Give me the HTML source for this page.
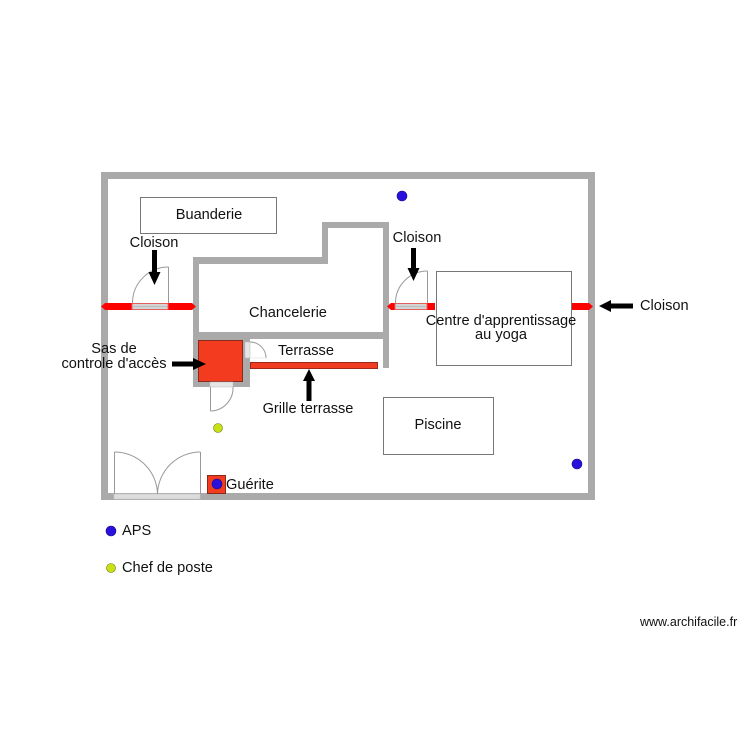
<!DOCTYPE html>
<html>
<head>
<meta charset="utf-8">
<style>
html,body{margin:0;padding:0;background:#fff;}
svg{display:block;}
text{font-family:"Liberation Sans",Arial,sans-serif;fill:#111;}
</style>
</head>
<body>
<svg width="750" height="750" viewBox="0 0 750 750" xmlns="http://www.w3.org/2000/svg">
  <rect x="0" y="0" width="750" height="750" fill="#fff"/>
  <!-- Outer walls -->
  <rect x="101" y="172" width="494" height="328" fill="#aaaaaa"/>
  <rect x="108" y="179" width="480" height="314" fill="#fff"/>
  <!-- bottom double door strip -->
  <rect x="114" y="494" width="86" height="5" fill="#dcdcdc" stroke="#c8c8c8" stroke-width="0.5"/>
  <!-- double door -->
  <g fill="none" stroke="#999" stroke-width="1">
    <line x1="114.5" y1="452" x2="114.5" y2="494"/>
    <line x1="200.5" y1="452" x2="200.5" y2="494"/>
    <path d="M114.5,452 A43,43 0 0 1 157.5,494"/>
    <path d="M200.5,452 A43,43 0 0 0 157.5,494"/>
  </g>

  <!-- Buanderie -->
  <rect x="140.5" y="197.5" width="136" height="36" fill="#fff" stroke="#777" stroke-width="1"/>
  <text x="209" y="215" font-size="14.6" text-anchor="middle" dominant-baseline="central">Buanderie</text>

  <!-- Chancelerie walls -->
  <g fill="#aaaaaa">
    <rect x="193" y="257" width="6" height="130"/>
    <rect x="193" y="257" width="135" height="7"/>
    <rect x="322" y="222" width="6" height="42"/>
    <rect x="322" y="222" width="67" height="6"/>
    <rect x="383" y="222" width="6" height="146"/>
    <rect x="193" y="332" width="196" height="7"/>
    <rect x="193" y="332" width="57" height="55"/>
  </g>
  <!-- Sas red -->
  <rect x="198.5" y="340.5" width="44" height="41" fill="#f33c1f" stroke="#8a2a1a" stroke-width="1"/>
  <!-- Sas right door -->
  <rect x="245" y="342" width="5" height="16" fill="#e6e6e6" stroke="#bbb" stroke-width="0.5"/>
  <path d="M250,342 A16,16 0 0 1 266,358" fill="none" stroke="#999" stroke-width="1"/>
  <line x1="250" y1="358" x2="266" y2="358" stroke="#ddd" stroke-width="0.5"/>
  <!-- Sas bottom door -->
  <rect x="210" y="382" width="23" height="5" fill="#e6e6e6" stroke="#bbb" stroke-width="0.5"/>
  <line x1="210.5" y1="387" x2="210.5" y2="411" stroke="#999" stroke-width="1"/>
  <path d="M233,387 A23,23 0 0 1 210.5,411" fill="none" stroke="#999" stroke-width="1"/>

  <!-- Grille terrasse -->
  <rect x="250.5" y="362.5" width="127" height="6" fill="#f03c20" stroke="#a0281a" stroke-width="1"/>

  <!-- Left cloison -->
  <polygon points="101,306.5 105,303 192,303 196,306.5 192,310 105,310" fill="#ff0000"/>
  <rect x="132" y="303.5" width="36" height="6" fill="#d4d4d4" stroke="#e06060" stroke-width="1"/>
  <line x1="133" y1="306.5" x2="167" y2="306.5" stroke="#bbb" stroke-width="1"/>
  <line x1="168.5" y1="267" x2="168.5" y2="303" stroke="#999" stroke-width="1"/>
  <path d="M168.5,267 A36,36 0 0 0 132.5,303" fill="none" stroke="#999" stroke-width="1"/>

  <!-- Right-middle cloison -->
  <polygon points="387,306.5 391,303 435,303 435,310 391,310" fill="#ff0000"/>
  <rect x="395" y="303.5" width="32" height="6" fill="#d4d4d4" stroke="#e06060" stroke-width="1"/>
  <line x1="396" y1="306.5" x2="426" y2="306.5" stroke="#bbb" stroke-width="1"/>
  <line x1="427.5" y1="271" x2="427.5" y2="303" stroke="#999" stroke-width="1"/>
  <path d="M427.5,271 A32,32 0 0 0 395.5,303" fill="none" stroke="#999" stroke-width="1"/>

  <!-- Yoga box -->
  <rect x="436.5" y="271.5" width="135" height="94" fill="#fff" stroke="#777" stroke-width="1"/>
  <!-- Right cloison -->
  <polygon points="572,303 589,303 593,306.5 589,310 572,310" fill="#ff0000"/>

  <!-- Piscine -->
  <rect x="383.5" y="397.5" width="110" height="57" fill="#fff" stroke="#777" stroke-width="1"/>
  <text x="438" y="425" font-size="14.6" text-anchor="middle" dominant-baseline="central">Piscine</text>

  <!-- Guérite -->
  <rect x="207.5" y="475.5" width="18" height="18" fill="#f33c1f" stroke="#8a2a1a" stroke-width="1"/>
  <circle cx="217" cy="484" r="5" fill="#2a10dc" stroke="#1a0a80" stroke-width="0.6"/>
  <text x="226" y="485" font-size="14.6" dominant-baseline="central">Guérite</text>

  <!-- Dots -->
  <circle cx="402" cy="196" r="5" fill="#2a10dc" stroke="#1a0a80" stroke-width="0.6"/>
  <circle cx="577" cy="464" r="5" fill="#2a10dc" stroke="#1a0a80" stroke-width="0.6"/>
  <circle cx="218" cy="428" r="4.5" fill="#c8e014" stroke="#6a7a10" stroke-width="0.6"/>

  <!-- Arrows -->
  <g fill="#000">
    <polygon points="152,250 157,250 157,272 160.5,272 154.5,285 148.5,272 152,272"/>
    <polygon points="411,248 416,248 416,268 419.5,268 413.5,281 407.5,268 411,268"/>
    <polygon points="599,306 611,300 611,303.5 633,303.5 633,308.5 611,308.5 611,312"/>
    <polygon points="172,361.5 193,361.5 193,358 206,364 193,370 193,366.5 172,366.5"/>
    <polygon points="309,369 315,381 311.5,381 311.5,401 306.5,401 306.5,381 303,381"/>
  </g>

  <!-- Labels -->
  <text x="154" y="243" font-size="14.6" text-anchor="middle" dominant-baseline="central">Cloison</text>
  <text x="417" y="238" font-size="14.6" text-anchor="middle" dominant-baseline="central">Cloison</text>
  <text x="640" y="306" font-size="14.6" dominant-baseline="central">Cloison</text>
  <text x="288" y="313" font-size="14.6" text-anchor="middle" dominant-baseline="central">Chancelerie</text>
  <text x="306" y="351" font-size="14.6" text-anchor="middle" dominant-baseline="central">Terrasse</text>
  <text x="114" y="349" font-size="14.6" text-anchor="middle" dominant-baseline="central">Sas de</text>
  <text x="114" y="364" font-size="14.6" text-anchor="middle" dominant-baseline="central">controle d'accès</text>
  <text x="501" y="321" font-size="14.6" text-anchor="middle" dominant-baseline="central">Centre d'apprentissage</text>
  <text x="501" y="335" font-size="14.6" text-anchor="middle" dominant-baseline="central">au yoga</text>
  <text x="308" y="409" font-size="14.6" text-anchor="middle" dominant-baseline="central">Grille terrasse</text>

  <!-- Legend -->
  <circle cx="111" cy="531" r="5" fill="#2a10dc" stroke="#1a0a80" stroke-width="0.6"/>
  <text x="122" y="531" font-size="14.6" dominant-baseline="central">APS</text>
  <circle cx="111" cy="568" r="4.5" fill="#c8e014" stroke="#6a7a10" stroke-width="0.6"/>
  <text x="122" y="568" font-size="14.6" dominant-baseline="central">Chef de poste</text>

  <text x="640" y="622" font-size="12.5" dominant-baseline="central">www.archifacile.fr</text>
</svg>
</body>
</html>
